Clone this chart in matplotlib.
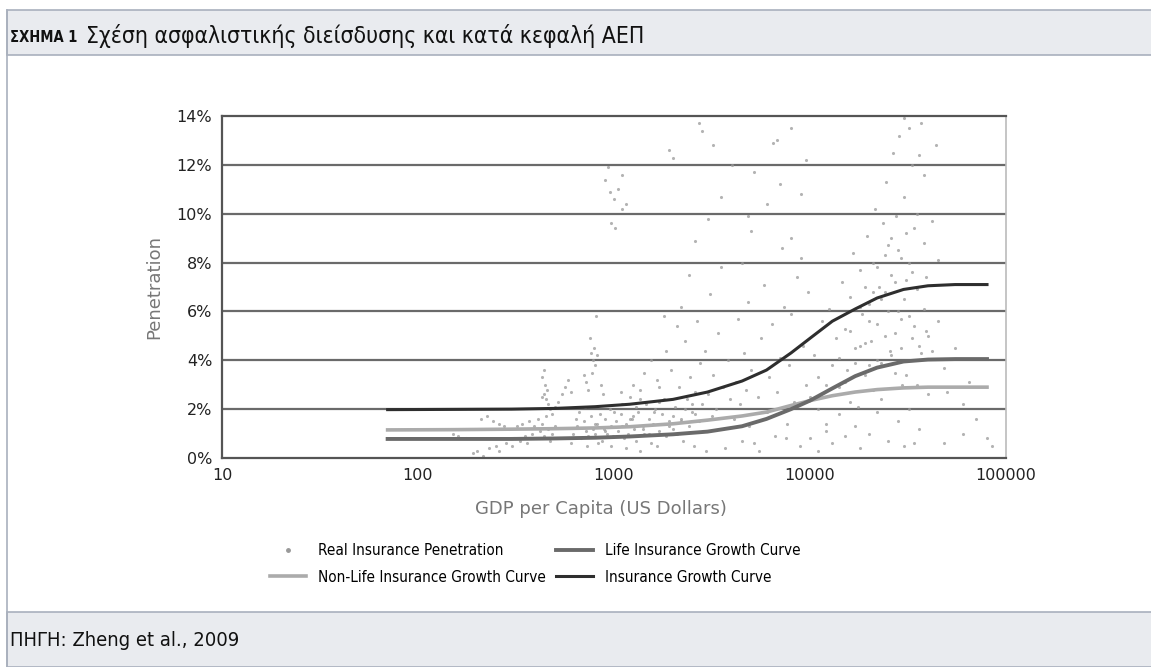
import matplotlib
matplotlib.use("Agg")
import matplotlib.pyplot as plt
from matplotlib.patches import Rectangle
from matplotlib.lines import Line2D
from matplotlib.ticker import FixedLocator, FixedFormatter

# fitted growth curves
curve_gdp = [70, 150, 300, 500, 800, 1200, 2000, 3000, 4500, 6000, 8000, 10000,
             13000, 17000, 22000, 30000, 40000, 55000, 80000]
insurance_curve = [1.98, 1.99, 2.0, 2.03, 2.1, 2.2, 2.4, 2.7, 3.15, 3.6, 4.3, 4.9,
                   5.6, 6.1, 6.55, 6.9, 7.05, 7.1, 7.1]
life_curve = [0.78, 0.78, 0.78, 0.8, 0.83, 0.88, 0.97, 1.08, 1.3, 1.6, 2.0, 2.35,
              2.85, 3.35, 3.7, 3.95, 4.03, 4.05, 4.05]
nonlife_curve = [1.15, 1.16, 1.18, 1.2, 1.23, 1.28, 1.4, 1.55, 1.72, 1.88, 2.15, 2.35,
                 2.55, 2.7, 2.8, 2.87, 2.9, 2.9, 2.9]

# observed penetration, GDP per capita (USD) and penetration (%)
real_gdp = [
    190, 200, 215, 230, 250, 260, 280, 300, 310, 330, 350, 360, 380, 400, 420, 440,
    210, 225, 240, 260, 275, 290, 160, 175, 150, 320, 340, 370, 390, 410, 430, 450,
    460, 470, 480, 500,
    430, 440, 450, 455, 445, 460, 470, 480, 500, 520, 540, 560, 580, 600, 430, 440,
    760, 780, 790, 800, 770, 820, 750, 810, 700, 720, 740, 860, 880,
    900, 950, 1000, 1050, 1100, 960, 1010, 1100, 930, 1150, 1900, 2000, 2700, 2800, 3200,
    600, 620, 650, 680, 700, 720, 740, 760, 780, 800, 820, 850, 870, 890, 900, 920,
    950, 970, 990, 640, 660, 710, 730, 830, 960,
    1020, 1050, 1080, 1100, 1120, 1150, 1180, 1200, 1230, 1260, 1300, 1330, 1360, 1400,
    1430, 1460, 1500, 1540, 1580, 1620, 1660, 1700, 1750, 1800, 1850, 1900, 1950, 1990,
    1080, 1250, 1420, 1550, 1700, 1850, 1150, 1350, 1650,
    2050, 2100, 2150, 2200, 2250, 2300, 2350, 2400, 2450, 2500, 2550, 2600, 2650, 2700,
    2750, 2800, 2850, 2900, 2950, 3000, 3100, 3150, 3200, 3300, 3400, 3500, 3600, 3700,
    3800, 3900, 2400, 2600, 3000, 2200, 3500, 2100, 1800,
    4100, 4200, 4300, 4400, 4500, 4600, 4700, 4800, 4900, 5000, 5200, 5400, 5600, 5800,
    6000, 6200, 6400, 6600, 6800, 7000, 7200, 7400, 7600, 7800, 8000, 8300, 8600, 8900,
    9200, 9500, 9800, 5000, 6000, 7000, 8000, 9000, 4500, 6500, 9500, 8000, 5500, 7500,
    10000, 10500, 11000, 11500, 12000, 12500, 13000, 13500, 14000, 14500, 15000, 15500,
    16000, 16500, 17000, 17500, 18000, 18500, 19000, 19500, 20000, 20500, 21000, 21500,
    22000, 22500, 23000, 23500, 24000, 24500, 25000, 25500, 26000, 26500, 27000, 27500,
    28000, 28500, 29000, 29500, 30000, 31000, 32000, 33000, 34000, 35000, 36000, 37000,
    38000, 39000, 40000,
    10000, 11000, 12000, 13000, 14000, 15000, 16000, 17000, 18000, 20000, 22000, 25000,
    28000, 30000, 32000, 34000, 36000,
    18000, 19000, 20000, 21000, 22000, 23000, 24000, 25000, 26000, 27000, 28000, 29000,
    30000, 31000, 32000, 33000, 34000, 35000, 24000, 26000, 20000, 22000, 18000, 16000,
    14000, 12000, 11000, 15000, 17000, 19000, 21000, 23000, 27000, 29000, 31000, 33000,
    35000, 37000, 38000, 39000, 40000, 42000, 45000, 48000, 50000, 55000, 60000, 65000,
    45000, 42000, 44000, 38000, 36000, 30000, 32000,
    80000, 85000, 70000, 60000, 48000,
    3500, 4000, 5200, 6800, 9000, 4800,
    1100, 1250, 1400, 1600, 1800, 2000, 2300, 2600, 1300, 1500, 1700, 1900, 2200, 2500,
    800, 900, 1000, 1200, 1150, 1350,
]
real_pen = [
    0.2, 0.3, 0.1, 0.4, 0.5, 0.3, 0.6, 0.5, 0.8, 0.7, 0.9, 0.6, 1.0, 0.8, 1.1, 0.9,
    1.6, 1.7, 1.5, 1.4, 1.3, 1.2, 0.9, 0.8, 1.0, 1.3, 1.4, 1.5, 1.3, 1.6, 1.4, 1.7,
    1.2, 0.7, 1.0, 1.3,
    2.5, 2.6, 2.4, 2.8, 3.0, 2.2, 2.0, 1.8, 2.1, 2.3, 2.6, 2.9, 3.2, 2.7, 3.3, 3.6,
    4.3, 4.0, 4.5, 3.8, 3.5, 4.2, 4.9, 5.8, 3.4, 3.1, 2.8, 3.0, 2.6,
    11.4, 10.9, 10.6, 11.0, 11.6, 9.6, 9.4, 10.2, 11.9, 10.4, 12.6, 12.3, 13.7, 13.4, 12.8,
    0.6, 1.0, 1.3, 0.8, 1.5, 1.1, 0.9, 1.7, 1.2, 1.0, 1.4, 1.8, 0.7, 1.2, 1.6, 1.0,
    2.0, 1.3, 0.9, 1.6, 1.9, 2.1, 0.5, 0.6, 0.5,
    1.5, 1.1, 1.8, 2.2, 0.8, 1.4, 1.0, 2.5, 1.6, 1.2, 0.7, 1.9, 2.8, 1.3,
    1.0, 2.2, 1.6, 0.6, 1.4, 2.0, 3.2, 1.1, 1.8, 2.4, 0.9, 1.5, 3.6, 1.2,
    2.7, 3.0, 3.5, 4.0, 2.9, 4.4, 0.4, 0.3, 0.5,
    2.1, 1.0, 2.9, 1.6, 0.7, 4.8, 2.4, 1.3, 3.3, 1.9, 0.5, 2.7, 5.6, 1.5,
    3.9, 2.2, 1.1, 4.4, 0.3, 2.6, 6.7, 1.7, 3.4, 2.0, 5.1, 1.2, 2.9, 0.4,
    4.0, 2.4, 7.5, 8.9, 9.8, 6.2, 7.8, 5.4, 5.8,
    1.6, 3.1, 5.7, 2.2, 0.7, 4.3, 2.8, 6.4, 1.3, 3.6, 0.6, 2.5, 4.9, 7.1,
    1.9, 3.3, 5.5, 0.9, 2.7, 4.1, 8.6, 6.2, 1.4, 3.8, 5.9, 2.3, 7.4, 0.5,
    4.6, 3.0, 6.8, 9.3, 10.4, 11.2, 9.0, 10.8, 8.0, 12.9, 12.2, 13.5, 0.3, 0.8,
    2.5, 4.2, 3.3, 5.6, 1.4, 6.1, 3.8, 4.9, 2.9, 7.2, 5.3, 3.6,
    6.6, 8.4, 4.5, 2.1, 7.7, 5.9, 3.4, 9.1, 6.3, 4.8, 8.0, 10.2,
    5.5, 7.0, 3.9, 9.6, 6.8, 11.3, 8.7, 4.4, 7.5, 12.5, 5.1, 9.9,
    6.0, 13.2, 8.2, 3.0, 10.7, 7.3, 5.8, 12.0, 9.4, 6.9, 4.6, 13.7,
    8.8, 5.2, 2.6,
    0.8, 0.3, 1.1, 0.6, 1.8, 0.9, 2.3, 1.3, 0.4, 1.0, 1.9, 0.7,
    1.5, 0.5, 2.0, 0.6, 1.2,
    6.2, 7.0, 5.6, 6.8, 7.8, 6.5, 5.0, 6.0, 9.0, 7.2, 8.5, 5.7,
    6.5, 9.2, 8.0, 7.6, 5.4, 10.0, 8.3, 4.2, 3.8, 4.0, 4.6, 5.2,
    4.1, 3.0, 2.0, 3.1, 3.9, 4.7, 2.8, 2.4, 3.5, 4.5, 3.4, 4.9,
    3.0, 4.3, 6.1, 7.4, 5.0, 4.4, 5.6, 3.7, 2.7, 4.5, 2.2, 3.1,
    8.1, 9.7, 12.8, 11.6, 12.4, 13.9, 13.5,
    0.8, 0.5, 1.6, 1.0, 0.6,
    10.7, 12.0, 11.7, 13.0, 8.2, 9.9,
    1.3, 1.7, 1.2, 1.9, 1.4, 1.7, 2.0, 1.8, 2.1, 1.0, 2.3, 1.3, 1.5, 2.2,
    1.4, 1.1, 1.9, 1.6, 0.9, 2.4,
]

y_ticks = [0, 2, 4, 6, 8, 10, 12, 14]
y_tick_labels = ["0%", "2%", "4%", "6%", "8%", "10%", "12%", "14%"]
x_ticks = [10, 100, 1000, 10000, 100000]
x_tick_labels = ["10", "100", "1000", "10000", "100000"]

band = "#e9ebef"
edge = "#a9b0bd"
narrow = dict(family="DejaVu Sans", stretch="condensed")

fig = plt.figure(figsize=(11.51, 6.67), dpi=100)

# header / footer bands of the figure box
fig.patches.append(Rectangle((7 / 1151, 1 - 55 / 667), 1, 45 / 667, transform=fig.transFigure,
                             facecolor=band, edgecolor=edge, lw=1.2, zorder=0))
fig.patches.append(Rectangle((7 / 1151, 0), 1, 1 - 612 / 667, transform=fig.transFigure,
                             facecolor=band, edgecolor=edge, lw=1.2, zorder=0))
fig.lines.append(Line2D([7 / 1151, 7 / 1151], [0, 1 - 10 / 667], transform=fig.transFigure,
                        color=edge, lw=1.2))

fig.text(10 / 1151, 1 - 37 / 667, "ΣΧΗΜΑ 1", fontweight="bold", fontsize=10.5,
         va="center", ha="left", color="#111", **narrow)
fig.text(86 / 1151, 1 - 36 / 667, "Σχέση ασφαλιστικής διείσδυσης και κατά κεφαλή ΑΕΠ",
         fontsize=16.5, va="center", ha="left", color="#111", **narrow)
fig.text(10 / 1151, 1 - 641 / 667, "ΠΗΓΗ: Zheng et al., 2009", fontsize=14.5,
         va="center", ha="left", color="#111", **narrow)

ax = fig.add_axes([222 / 1151, 1 - 458 / 667, 784 / 1151, 342 / 667])
ax.set_xscale("log")
ax.set_xlim(10, 100000)
ax.set_ylim(0, 14)

for yv in y_ticks[1:-1]:
    ax.axhline(yv, color="#505050", lw=1.6, alpha=0.85, zorder=1)

ax.scatter(real_gdp, real_pen, s=5, color="#9a9a9a", alpha=0.75, lw=0, zorder=2)
ax.plot(curve_gdp, nonlife_curve, color="#ababab", lw=2.6, zorder=3)
ax.plot(curve_gdp, life_curve, color="#6a6a6a", lw=2.8, zorder=4)
ax.plot(curve_gdp, insurance_curve, color="#2e2e2e", lw=2.2, zorder=5)

ax.xaxis.set_major_locator(FixedLocator(x_ticks))
ax.xaxis.set_major_formatter(FixedFormatter(x_tick_labels))
ax.xaxis.set_minor_locator(FixedLocator([]))
ax.yaxis.set_major_locator(FixedLocator(y_ticks))
ax.yaxis.set_major_formatter(FixedFormatter(y_tick_labels))
ax.tick_params(length=0, labelsize=11.5, labelcolor="#222", pad=7)

for side in ["left", "bottom", "top"]:
    ax.spines[side].set_color("#555")
    ax.spines[side].set_linewidth(1.6)
ax.spines["right"].set_color("#bbb")
ax.spines["right"].set_linewidth(1.2)

ax.set_ylabel("Penetration", fontsize=13, color="#777", labelpad=10)
fig.text(601 / 1151, 1 - 509 / 667, "GDP per Capita (US Dollars)", fontsize=13,
         color="#777", ha="center", va="center")

handles = [
    Line2D([], [], ls="", marker="o", ms=2.5, color="#999"),
    Line2D([], [], color="#ababab", lw=2.6),
    Line2D([], [], color="#6a6a6a", lw=2.8),
    Line2D([], [], color="#2e2e2e", lw=2.2),
]
labels = ["Real Insurance Penetration", "Non-Life Insurance Growth Curve",
          "Life Insurance Growth Curve", "Insurance Growth Curve"]
fig.legend(handles, labels, ncol=2, loc="center", bbox_to_anchor=(535 / 1151, 1 - 564 / 667),
           frameon=False, prop=dict(size=11, **narrow), handlelength=2.4,
           columnspacing=0.7, labelspacing=0.75, handletextpad=0.75)

fig.savefig("out.png", dpi=100)
